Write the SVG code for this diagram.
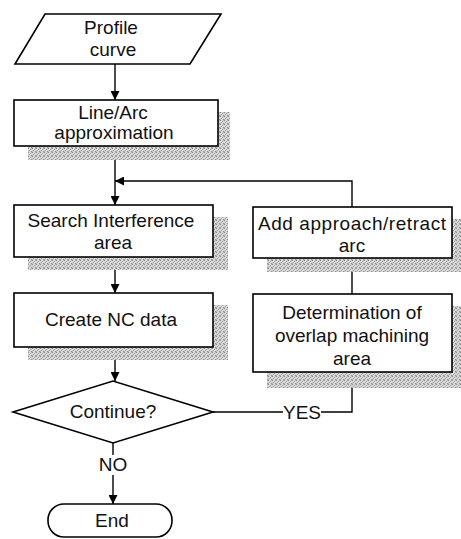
<svg xmlns="http://www.w3.org/2000/svg" width="461" height="539" viewBox="0 0 461 539">
<defs>
<pattern id="ht" width="4" height="4" patternUnits="userSpaceOnUse">
<rect width="4" height="4" fill="#d9d9d9"/>
<rect x="0" y="0" width="1" height="1" fill="#8c8c8c"/>
<rect x="2" y="1" width="1" height="1" fill="#9e9e9e"/>
<rect x="1" y="2" width="1" height="1" fill="#a4a4a4"/>
<rect x="3" y="3" width="1" height="1" fill="#909090"/>
<rect x="3" y="0" width="1" height="1" fill="#b4b4b4"/>
<rect x="0" y="3" width="1" height="1" fill="#b0b0b0"/>
</pattern>
<marker id="ah" viewBox="0 0 10 10" refX="10" refY="5" markerWidth="9" markerHeight="9" markerUnits="userSpaceOnUse" orient="auto">
<path d="M0,0 L10,5 L0,10 Z" fill="#000"/>
</marker>
</defs>
<style>
.box{fill:#fff;stroke:#000;stroke-width:1.6}
.sh{fill:url(#ht)}
.t{font-family:"Liberation Sans",Arial,sans-serif;font-size:19px;fill:#111;text-anchor:middle}
.c{fill:none;stroke:#000;stroke-width:1.4}
</style>
<rect width="461" height="539" fill="#fff"/>

<g id="connectors">
<path class="c" d="M115,64 V100" marker-end="url(#ah)"/>
<path class="c" d="M115,146 V205" marker-end="url(#ah)"/>
<path class="c" d="M352,207 V181 H115" marker-end="url(#ah)"/>
<path class="c" d="M115,257 V293" marker-end="url(#ah)"/>
<path class="c" d="M115,347 V381" marker-end="url(#ah)"/>
<path class="c" d="M352,294 V258" marker-end="url(#ah)"/>
<path class="c" d="M213,412 H283"/>
<path class="c" d="M321,412 H352 V372" marker-end="url(#ah)"/>
<path class="c" d="M113,443 V455"/>
<path class="c" d="M113,475 V504" marker-end="url(#ah)"/>
<text class="t" x="302" y="419">YES</text>
<text class="t" x="113" y="471">NO</text>
</g>

<g id="profile">
<polygon class="box" points="45,14 221,14 190,64 15,64"/>
<text class="t" x="111" y="34">Profile</text>
<text class="t" x="113" y="56">curve</text>
</g>

<g id="linearc">
<rect class="sh" x="28" y="112" width="202" height="48"/>
<rect class="box" x="14" y="100" width="204" height="46"/>
<text class="t" x="113" y="119">Line/Arc</text>
<text class="t" x="114" y="139">approximation</text>
</g>

<g id="search">
<rect class="sh" x="28" y="217" width="200" height="53"/>
<rect class="box" x="14" y="205" width="199" height="52"/>
<text class="t" x="111" y="227">Search Interference</text>
<text class="t" x="113" y="249">area</text>
</g>

<g id="create">
<rect class="sh" x="28" y="305" width="200" height="55"/>
<rect class="box" x="14" y="293" width="199" height="54"/>
<text class="t" x="111" y="326">Create NC data</text>
</g>

<g id="addarc">
<rect class="sh" x="267" y="219" width="194" height="53"/>
<rect class="box" x="253" y="207" width="199" height="51"/>
<text class="t" x="352" y="230" textLength="188" lengthAdjust="spacing">Add approach/retract</text>
<text class="t" x="352" y="252">arc</text>
</g>

<g id="overlap">
<rect class="sh" x="267" y="306" width="194" height="82"/>
<rect class="box" x="253" y="294" width="199" height="78"/>
<text class="t" x="352" y="319">Determination of</text>
<text class="t" x="352" y="342">overlap machining</text>
<text class="t" x="352" y="365">area</text>
</g>

<g id="continue">
<polygon class="box" points="13,412 113,381 213,412 113,443"/>
<text class="t" x="113" y="418">Continue?</text>
</g>

<g id="end">
<rect class="box" x="48" y="504" width="124" height="33" rx="16" ry="16"/>
<text class="t" x="112" y="527">End</text>
</g>
</svg>
